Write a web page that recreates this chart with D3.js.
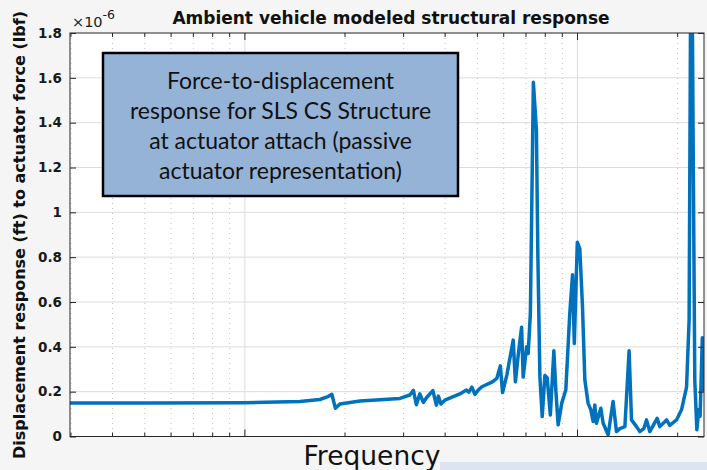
<!DOCTYPE html>
<html>
<head>
<meta charset="utf-8">
<script src="https://cdn.jsdelivr.net/npm/d3@7"></script>
<style>
  body { margin: 0; background: #f5f5f5; }
  svg { display: block; }
</style>
</head>
<body>
<div id="chart"></div>
<script>
// frequency (Hz) of each point
var freq = [2.98, 5.18, 10, 14.63, 16.8, 17.77, 18.26, 18.71, 19.3, 22.17,
  29.24, 31.33, 32.1, 32.78, 33.57, 34.39, 35.24, 36.74, 37.64, 38.16,
  38.83, 39.92, 44.29, 46.33, 47.13, 48.12, 49.13, 50.16, 51.57, 55.65,
  57.21, 58.61, 59.51, 61.32, 64.06, 65.05, 66.32, 67.9, 68.65, 70.28,
  71.06, 72.15, 73.66, 75.22, 76.0, 77.06, 78.3, 79.77, 81.05, 82.85,
  84.88, 86.05, 87.43, 89.69, 92.2, 94.79, 96.6, 97.79, 99.86, 101.6,
  103.5, 105.2, 107.6, 109.6, 111.4, 112.7, 114.0, 117.5, 119.4, 123.6,
  127.9, 130.9, 134.0, 138.8, 142.9, 145.3, 150.4, 153.9, 158.2, 161.2,
  164.9, 173.5, 176.8, 185.2, 189.4, 198.4, 205.4, 212.7, 216.5, 219.8,
  222.9, 225.2, 228.4, 231.5, 233.6, 237.2, 239.7]

// displacement response per actuator force, in 1e-6 ft/lbf
var resp = [0.150, 0.150, 0.151, 0.156, 0.165, 0.178, 0.188, 0.126, 0.145, 0.158,
  0.170, 0.185, 0.206, 0.142, 0.190, 0.152, 0.175, 0.205, 0.140, 0.180,
  0.145, 0.162, 0.190, 0.207, 0.198, 0.220, 0.188, 0.205, 0.222, 0.245,
  0.260, 0.315, 0.196, 0.275, 0.430, 0.244, 0.363, 0.487, 0.265, 0.400,
  0.370, 0.550, 1.580, 1.370, 0.800, 0.267, 0.089, 0.272, 0.262, 0.096,
  0.382, 0.207, 0.052, 0.150, 0.207, 0.550, 0.722, 0.415, 0.867, 0.837,
  0.578, 0.252, 0.148, 0.120, 0.067, 0.141, 0.059, 0.126, 0.059, 0.008,
  0.156, 0.022, 0.035, 0.044, 0.382, 0.074, 0.044, 0.022, 0.035, 0.074,
  0.022, 0.081, 0.044, 0.074, 0.050, 0.074, 0.119, 0.220, 0.520, 2.600,
  1.200, 0.250, 0.030, 0.120, 0.090, 0.440, 0.200]

var yTicks = [0, 0.2, 0.4, 0.6, 0.8, 1, 1.2, 1.4, 1.6, 1.8]
var yTickLabels = ['0', '0.2', '0.4', '0.6', '0.8', '1', '1.2', '1.4', '1.6', '1.8']
var freqDomain = [2.98, 240]

var titleText = 'Ambient vehicle modeled structural response'
var xLabelText = 'Frequency'
var yLabelText = 'Displacement response (ft) to actuator force (lbf)'
var boxLines = ['Force-to-displacement', 'response for SLS CS Structure',
  'at actuator attach (passive', 'actuator representation)']

const width = 707
const height = 470
// plot box edges (named so they don't clash with window.top)
const axLeft = 70, axRight = 704, axTop = 33, axBottom = 436.5

var svg = d3.select('#chart')
  .append('svg')
  .attr('width', width)
  .attr('height', height)

// figure background + the slide band peeking in at the bottom
svg.append('rect').attr('width', width).attr('height', height).attr('fill', '#f5f5f5')
svg.append('rect').attr('x', 440).attr('y', 462).attr('width', width - 440).attr('height', 8).attr('fill', '#dbe4f0')

var x = d3.scaleLog().domain(freqDomain).range([axLeft, axRight])
var y = d3.scaleLinear().domain([0, 1.8]).range([axBottom, axTop])

// axes area
svg.append('rect')
  .attr('x', axLeft).attr('y', axTop)
  .attr('width', axRight - axLeft).attr('height', axBottom - axTop)
  .attr('fill', 'white')

var xTicks = x.ticks()
var isMajor = d => Math.abs(Math.log10(d) - Math.round(Math.log10(d))) < 1e-9

// minor grid (dotted) and major grid (solid)
svg.append('g')
  .selectAll('line')
  .data(xTicks.filter(d => !isMajor(d)))
  .enter()
  .append('line')
  .attr('x1', d => x(d)).attr('x2', d => x(d))
  .attr('y1', axTop).attr('y2', axBottom)
  .attr('stroke', '#c4c4c4')
  .attr('stroke-width', 1)
  .attr('stroke-dasharray', '1,4')

svg.append('g')
  .selectAll('line')
  .data(xTicks.filter(isMajor))
  .enter()
  .append('line')
  .attr('x1', d => x(d)).attr('x2', d => x(d))
  .attr('y1', axTop).attr('y2', axBottom)
  .attr('stroke', '#dcdcdc')
  .attr('stroke-width', 1)

svg.append('g')
  .selectAll('line')
  .data(yTicks.slice(1, -1))
  .enter()
  .append('line')
  .attr('x1', axLeft).attr('x2', axRight)
  .attr('y1', d => y(d)).attr('y2', d => y(d))
  .attr('stroke', '#dcdcdc')
  .attr('stroke-width', 1)

// the response curve, clipped to the axes
svg.append('clipPath').attr('id', 'clip')
  .append('rect')
  .attr('x', axLeft).attr('y', axTop)
  .attr('width', axRight - axLeft).attr('height', axBottom - axTop)

var points = freq.map((f, i) => [f, resp[i]])
var line = d3.line().x(d => x(d[0])).y(d => y(d[1]))

svg.append('path')
  .datum(points)
  .attr('clip-path', 'url(#clip)')
  .attr('d', line)
  .attr('fill', 'none')
  .attr('stroke', '#0072bd')
  .attr('stroke-width', 3.5)
  .attr('stroke-linejoin', 'round')

// axes with inward ticks, box on
var tickFont = '"DejaVu Sans", sans-serif'

var yAxis = svg.append('g')
  .attr('transform', 'translate(' + axLeft + ',0)')
  .call(d3.axisLeft(y).tickValues(yTicks).tickSize(-6).tickPadding(8)
    .tickFormat((d, i) => yTickLabels[i]))
yAxis.selectAll('text')
  .attr('font-family', tickFont).attr('font-weight', 'bold')
  .attr('font-size', 13.5).attr('fill', '#1a1a1a')

svg.append('g')
  .attr('transform', 'translate(' + axRight + ',0)')
  .call(d3.axisRight(y).tickValues(yTicks).tickSize(-6).tickFormat(''))

var xTickSize = d => isMajor(d) ? -7 : -4
function xAxisTicks(g, yPos, dir) {
  g.append('g')
    .selectAll('line')
    .data(xTicks)
    .enter()
    .append('line')
    .attr('x1', d => x(d)).attr('x2', d => x(d))
    .attr('y1', yPos).attr('y2', d => yPos + dir * xTickSize(d))
    .attr('stroke', '#262626')
}
xAxisTicks(svg, axBottom, 1)
xAxisTicks(svg, axTop, -1)

svg.selectAll('.domain').remove()
svg.selectAll('.tick line').attr('stroke', '#262626')

svg.append('rect')
  .attr('x', axLeft).attr('y', axTop)
  .attr('width', axRight - axLeft).attr('height', axBottom - axTop)
  .attr('fill', 'none')
  .attr('stroke', '#262626')
  .attr('stroke-width', 1)

// exponent label
var expo = svg.append('text')
  .attr('x', 72).attr('y', 27)
  .attr('font-family', tickFont).attr('font-size', 14.5)
  .attr('fill', '#1a1a1a')
expo.append('tspan').text('\u00d710')
expo.append('tspan').attr('dy', -8).attr('font-size', 12.5).text('-6')

// title and axis labels
svg.append('text')
  .attr('x', 391).attr('y', 24)
  .attr('text-anchor', 'middle')
  .attr('font-family', tickFont).attr('font-weight', 'bold')
  .attr('font-size', 17).attr('fill', '#111')
  .text(titleText)

svg.append('text')
  .attr('x', 372).attr('y', 465)
  .attr('text-anchor', 'middle')
  .attr('font-family', tickFont)
  .attr('font-size', 26.5).attr('fill', '#111')
  .text(xLabelText)

svg.append('text')
  .attr('transform', 'translate(25,235) rotate(-90)')
  .attr('text-anchor', 'middle')
  .attr('font-family', tickFont).attr('font-weight', 'bold')
  .attr('font-size', 16).attr('fill', '#111')
  .text(yLabelText)

// annotation box
svg.append('rect')
  .attr('x', 103).attr('y', 53)
  .attr('width', 355).attr('height', 143)
  .attr('fill', '#95b3d7')
  .attr('stroke', '#000')
  .attr('stroke-width', 2.5)

svg.append('g')
  .selectAll('text')
  .data(boxLines)
  .enter()
  .append('text')
  .attr('x', 280.5)
  .attr('y', (d, i) => 89 + i * 30)
  .attr('text-anchor', 'middle')
  .attr('font-family', 'Lato, sans-serif')
  .attr('font-size', 23)
  .attr('fill', '#111')
  .text(d => d)
</script>
</body>
</html>
